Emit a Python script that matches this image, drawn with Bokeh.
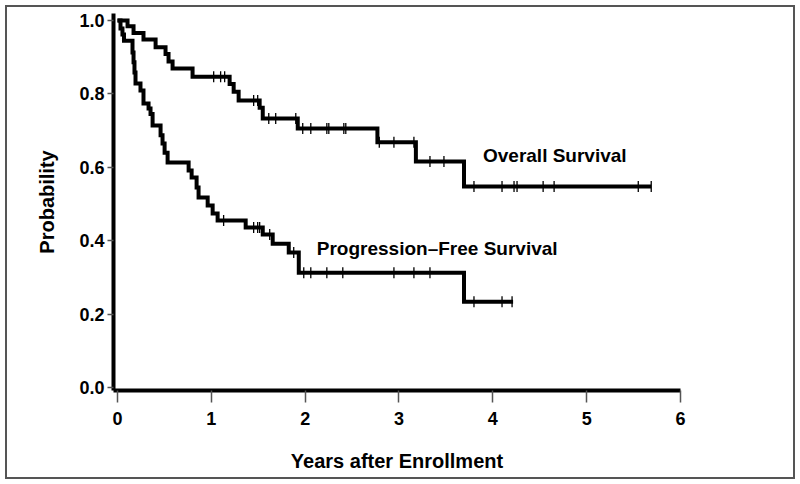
import numpy as np
from bokeh.plotting import figure
from bokeh.models import Range1d, FixedTicker, Label, PrintfTickFormatter
from bokeh.embed import file_html
from bokeh.resources import INLINE

# ---- data ----
os_event_times = [0.107, 0.171, 0.277, 0.406, 0.512, 0.544, 0.587, 0.800, 1.195, 1.238,
                  1.291, 1.515, 1.548, 1.921, 2.770, 3.180, 3.693]
os_event_surv = [0.984, 0.966, 0.948, 0.927, 0.909, 0.888, 0.869, 0.847, 0.827, 0.806,
                 0.782, 0.762, 0.733, 0.706, 0.668, 0.616, 0.548]
os_censor_times = [1.025, 1.099, 1.142, 1.451, 1.494, 1.612, 1.686, 1.900, 1.974, 2.060,
                   2.231, 2.252, 2.412, 2.433, 2.790, 2.946, 3.159, 3.330, 3.479, 3.799,
                   4.098, 4.226, 4.258, 4.536, 4.653, 5.550, 5.688]
os_end = 5.688

pfs_event_times = [0.032, 0.053, 0.069, 0.160, 0.171, 0.181, 0.192, 0.245, 0.277, 0.331,
                   0.352, 0.374, 0.459, 0.480, 0.502, 0.534, 0.758, 0.790, 0.843, 0.864,
                   0.961, 1.014, 1.067, 1.366, 1.548, 1.654, 1.825, 1.932, 3.693]
pfs_event_surv = [0.978, 0.962, 0.945, 0.913, 0.886, 0.858, 0.828, 0.809, 0.774, 0.760,
                  0.745, 0.714, 0.687, 0.665, 0.640, 0.613, 0.591, 0.572, 0.545, 0.518,
                  0.496, 0.474, 0.455, 0.436, 0.417, 0.392, 0.368, 0.313, 0.234]
pfs_censor_times = [1.131, 1.451, 1.494, 1.515, 1.622, 1.878, 1.985, 2.060, 2.231, 2.401,
                    2.946, 3.159, 3.330, 3.799, 4.098, 4.205]
pfs_end = 4.216

x_ticks = [0, 1, 2, 3, 4, 5, 6]
y_ticks = [0.0, 0.2, 0.4, 0.6, 0.8, 1.0]

FONT = "Liberation Sans"

p = figure(width=784, height=468, output_backend="svg", toolbar_location=None,
           x_range=Range1d(-0.0426, 6.0), y_range=Range1d(-0.008, 1.019),
           min_border_left=105, min_border_right=112, min_border_top=5, min_border_bottom=86,
           x_axis_label="Years after Enrollment", y_axis_label="Probability")
p.styles = {"outline": "2px solid #555555", "outline-offset": "1px", "margin": "8px"}
p.outline_line_color = None
p.xgrid.visible = False
p.ygrid.visible = False
p.background_fill_color = "white"
p.border_fill_color = "white"

for ax in (p.xaxis[0], p.yaxis[0]):
    ax.axis_line_width = 4
    ax.axis_line_color = "black"
    ax.major_tick_line_color = "#555555"
    ax.major_tick_line_width = 1.5
    ax.major_tick_in = 0
    ax.minor_tick_line_color = None
    ax.major_label_text_font = FONT
    ax.major_label_text_font_style = "bold"
    ax.major_label_text_font_size = "18px"
    ax.major_label_text_color = "black"
    ax.axis_label_text_font = FONT
    ax.axis_label_text_font_style = "bold"
    ax.axis_label_text_font_size = "20px"
    ax.axis_label_text_color = "black"

p.xaxis[0].ticker = FixedTicker(ticks=x_ticks)
p.xaxis[0].major_tick_out = 12
p.xaxis[0].major_label_standoff = 9
p.xaxis[0].axis_label_standoff = 22
p.yaxis[0].ticker = FixedTicker(ticks=y_ticks)
p.yaxis[0].formatter = PrintfTickFormatter(format="%.1f")
p.yaxis[0].major_tick_out = 6
p.yaxis[0].major_label_standoff = 3
p.yaxis[0].axis_label_standoff = 18


def curve(times, surv, end):
    xs = [0.0] + list(times) + [end]
    ys = [1.0] + list(surv) + [surv[-1]]
    return xs, ys


def level_at(ts, times, surv):
    lv = np.concatenate([[1.0], surv])
    idx = np.searchsorted(np.asarray(times), np.asarray(ts), side="right")
    return lv[idx]


for times, surv, end, cens in ((os_event_times, os_event_surv, os_end, os_censor_times),
                               (pfs_event_times, pfs_event_surv, pfs_end, pfs_censor_times)):
    xs, ys = curve(times, surv, end)
    p.step(xs, ys, mode="after", line_width=4, line_color="black", line_join="miter")
    p.scatter(x=cens, y=level_at(cens, times, surv), marker="dash", angle=np.pi / 2,
              size=11, line_color="black", line_width=1.3)

p.add_layout(Label(x=3.895, y=0.632, text="Overall Survival", text_font=FONT,
                   text_font_style="bold", text_font_size="19px", text_baseline="middle",
                   text_align="left", text_color="black"))
p.add_layout(Label(x=2.124, y=0.379, text="Progression\u2013Free Survival", text_font=FONT,
                   text_font_style="bold", text_font_size="19px", text_baseline="middle",
                   text_align="left", text_color="black"))

open("out.html", "w").write(file_html(p, INLINE))
